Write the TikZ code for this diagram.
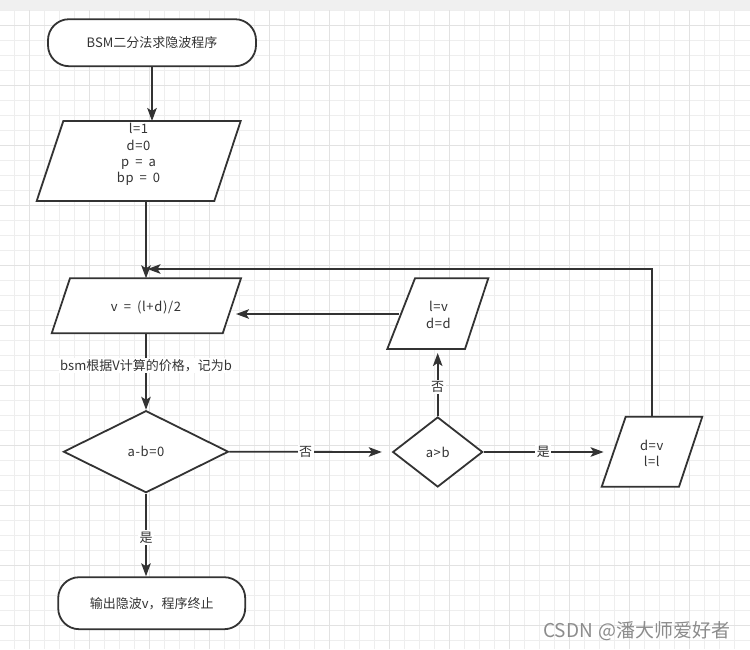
\documentclass[tikz,border=0pt]{standalone}
\usepackage{fontspec}
\setmainfont{Noto Sans CJK SC}
\newfontfamily\latinfont[LetterSpace=5,WordSpace=1.7]{Noto Sans CJK SC}
\newfontfamily\wmfont[WordSpace=1.3]{Noto Sans CJK SC}
\usetikzlibrary{arrows.meta,shapes.geometric}
\definecolor{ink}{HTML}{333333}
\definecolor{gridminor}{HTML}{EEEEEE}
\definecolor{gridmajor}{HTML}{E2E2E2}
\definecolor{band}{HTML}{F0F0F0}
\definecolor{wm}{HTML}{8C8C8C}
\tikzset{
  shapeline/.style={draw=ink, line width=1.8pt, fill=white},
  term/.style={shapeline, rectangle, rounded corners=21pt, inner sep=0pt},
  decide/.style={shapeline, diamond, inner sep=0pt},
  txt/.style={font=\fontsize{13pt}{16.3pt}\selectfont, text=ink, align=center, inner sep=0pt},
  ltxt/.style={font=\latinfont\fontsize{13pt}{16.3pt}\selectfont, text=ink, align=center, inner sep=0pt},
  conn/.style={draw=ink, line width=1.8pt, -{Stealth[length=13pt,width=9.5pt,inset=3pt]}},
  lbl/.style={fill=white, text=ink, font=\fontsize{13pt}{15pt}\selectfont, inner sep=1.5pt},
  gminor/.style={draw=gridminor, line width=1pt},
  gmajor/.style={draw=gridmajor, line width=1pt}
}
\begin{document}
\begin{tikzpicture}[x=1pt,y=-1pt]
\useasboundingbox (0,0) rectangle (750,649);
\fill[white] (0,0) rectangle (750,649);
% grid background
\foreach \x in {14.5,29.5,...,749} \draw[gminor] (\x,10) -- (\x,649);
\foreach \y in {10,25,...,649} \draw[gminor] (0,\y) -- (750,\y);
\foreach \x in {29.5,89.5,...,749} \draw[gmajor] (\x,10) -- (\x,649);
\foreach \y in {25,85,...,649} \draw[gmajor] (0,\y) -- (750,\y);
\fill[band] (0,0) rectangle (750,9.5);

% start / end terminators
\node[term, minimum width=208pt, minimum height=47pt, txt] (start) at (152,42.7) {BSM二分法求隐波程序};
\node[term, minimum width=187pt, minimum height=52pt, txt] (end) at (151.7,603.2) {输出隐波v，程序终止};

% parallelogram outlines
\draw[shapeline] (63.3,121) -- (240.7,121) -- (214.3,201) -- (36.7,201) -- cycle;
\draw[shapeline] (70,278.3) -- (241,278.3) -- (222.7,333.3) -- (51.7,333.3) -- cycle;
\draw[shapeline] (415,278.3) -- (488.3,278.3) -- (465,349) -- (387.3,349) -- cycle;
\draw[shapeline] (625.7,416.7) -- (702.3,416.7) -- (679,486.7) -- (601.7,486.7) -- cycle;

% parallelogram texts
\node[ltxt] (p1) at (138.5,154.5) {l=1\\d=0\\p = a\\bp = 0};
\node[ltxt] (p2) at (146,307.7) {v = (l+d)/2};
\node[ltxt] (p3) at (438.5,315) {l=v\\d=d};
\node[ltxt] (p4) at (651.7,453.3) {d=v\\l=l};

% decisions
\node[decide, minimum width=165pt, minimum height=82pt] (d1) at (146,451.7) {};
\node[ltxt] (d1t) at (d1.center) {a-b=0};
\node[decide, minimum width=90pt, minimum height=70pt] (d2) at (437.7,452) {};
\node[ltxt] (d2t) at (d2.center) {a>b};

% connection points on parallelograms
\coordinate (p1top) at (139,121);
\coordinate (p1bot) at (139,201);
\coordinate (p2top) at (146,278.3);
\coordinate (p2bot) at (146,333.3);
\coordinate (p2right) at (236,314);
\coordinate (p3bot) at (437.7,349);
\coordinate (p3left) at (399,314);
\coordinate (p4left) at (613.6,452);
\coordinate (p4top) at (652.3,416.7);
\coordinate (loop) at (147.5,269);

% connectors
\draw[conn] (start.south) -- (start.south |- p1top);
\draw[conn] (p2top |- p1bot) -- (p2top);
\draw[conn] (p2bot) -- node[lbl, pos=0.42] {bsm根据V计算的价格，记为b} (d1.north);
\draw[conn] (d1.south) -- node[lbl, pos=0.53] {是} (d1.south |- end.north);
\draw[conn, shorten >=10pt] (d1.east) -- node[lbl, pos=0.47] {否} (d2.west);
\draw[conn, shorten >=4pt] (d2.north) -- node[lbl, pos=0.43] {否} (p3bot);
\draw[conn] (p3left) -- (p2right);
\draw[conn, shorten >=10pt] (d2.east) -- node[lbl, pos=0.46] {是} (p4left);
\draw[conn] (p4top) -- (p4top |- loop) -- (loop);

% watermark
\node[anchor=west, text=wm, font=\wmfont\fontsize{19pt}{22pt}\selectfont, inner sep=0pt] (wmk) at (543,631) {CSDN @潘大师爱好者};
\end{tikzpicture}
\end{document}
